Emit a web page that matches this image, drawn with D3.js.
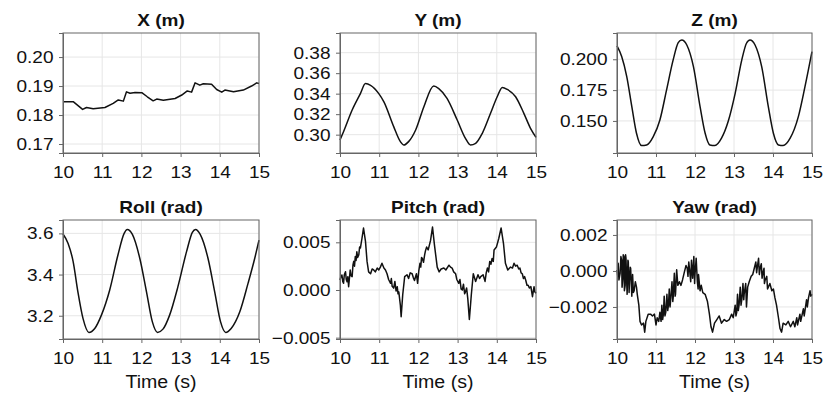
<!DOCTYPE html>
<html><head><meta charset="utf-8">
<script src="https://cdn.jsdelivr.net/npm/d3@7"></script>
<style>
body{margin:0;background:#fff;}
text{font-family:"Liberation Sans",Arial,Helvetica,sans-serif;}
</style></head>
<body><svg id="c" width="826" height="395"></svg>
<script>
// ---- data: [time (s), value] ----
const xData = [[10.00,0.1846],[10.26,0.1846],[10.50,0.18195],[10.60,0.1826],[10.77,0.1822],[11.07,0.1826],[11.28,0.1840],[11.41,0.1852],[11.54,0.1848],[11.62,0.1880],[11.71,0.1875],[11.84,0.1878],[12.01,0.1877],[12.15,0.1863],[12.30,0.1849],[12.39,0.1855],[12.56,0.1851],[12.86,0.1857],[13.03,0.1869],[13.17,0.1883],[13.28,0.1879],[13.37,0.1911],[13.49,0.1903],[13.58,0.1908],[13.79,0.1906],[13.92,0.1888],[14.05,0.1879],[14.13,0.1886],[14.35,0.1880],[14.60,0.1886],[14.81,0.1900],[14.94,0.1911],[15.00,0.1909]];
const yData = [[10.00,0.2948],[10.09,0.3029],[10.31,0.3240],[10.52,0.3400],[10.65,0.3498],[10.78,0.3481],[10.99,0.3400],[11.12,0.3320],[11.37,0.3078],[11.54,0.2932],[11.63,0.2899],[11.75,0.2932],[11.93,0.3046],[12.14,0.3273],[12.39,0.3475],[12.52,0.3450],[12.73,0.3354],[12.99,0.3143],[13.20,0.2964],[13.33,0.2899],[13.46,0.2915],[13.63,0.3013],[13.84,0.3208],[14.01,0.3370],[14.14,0.3461],[14.27,0.3441],[14.48,0.3370],[14.69,0.3208],[14.86,0.3062],[15.00,0.2974]];
const zData = [[10.00,0.2108],[10.12,0.2022],[10.25,0.1860],[10.38,0.1616],[10.50,0.1400],[10.63,0.1300],[10.76,0.1305],[10.93,0.1373],[11.10,0.1508],[11.27,0.1750],[11.44,0.1995],[11.57,0.2135],[11.66,0.2157],[11.79,0.2116],[11.96,0.1940],[12.13,0.1616],[12.26,0.1400],[12.38,0.1305],[12.51,0.1300],[12.68,0.1360],[12.85,0.1495],[13.03,0.1724],[13.20,0.1995],[13.32,0.2130],[13.41,0.2157],[13.54,0.2116],[13.71,0.1940],[13.88,0.1616],[14.01,0.1400],[14.14,0.1305],[14.26,0.1300],[14.44,0.1360],[14.65,0.1535],[14.82,0.1778],[15.00,0.2062]];
const rollData = [[10.00,3.597],[10.13,3.551],[10.26,3.462],[10.38,3.316],[10.51,3.187],[10.66,3.119],[10.81,3.138],[10.98,3.203],[11.19,3.324],[11.40,3.494],[11.56,3.600],[11.64,3.619],[11.77,3.595],[11.96,3.478],[12.13,3.316],[12.28,3.170],[12.41,3.119],[12.55,3.135],[12.72,3.203],[12.93,3.340],[13.15,3.510],[13.30,3.605],[13.38,3.619],[13.50,3.595],[13.70,3.478],[13.87,3.316],[14.02,3.170],[14.15,3.119],[14.29,3.138],[14.51,3.219],[14.72,3.357],[14.89,3.478],[15.00,3.567]];
const pitchData = [[10.00,0.00105],[10.03,0.0015],[10.05,0.00157],[10.07,0.0009],[10.09,0.0007],[10.11,0.0016],[10.14,0.00192],[10.16,0.0011],[10.18,0.00087],[10.20,0.0014],[10.22,0.00035],[10.24,0.0012],[10.26,0.0021],[10.28,0.0015],[10.31,0.0014],[10.33,0.0026],[10.35,0.0030],[10.37,0.0025],[10.39,0.0035],[10.41,0.0031],[10.43,0.0040],[10.45,0.0034],[10.48,0.0037],[10.50,0.0045],[10.52,0.0044],[10.56,0.0054],[10.60,0.0065],[10.65,0.0051],[10.69,0.0030],[10.73,0.0019],[10.78,0.0017],[10.82,0.0022],[10.86,0.0021],[10.90,0.0019],[10.95,0.0023],[10.99,0.0021],[11.03,0.0024],[11.07,0.0028],[11.12,0.0023],[11.16,0.0021],[11.20,0.0017],[11.24,0.0011],[11.29,0.0007],[11.31,0.0012],[11.33,0.0004],[11.37,0.0002],[11.40,0.0009],[11.43,-0.0001],[11.46,0.00035],[11.48,-0.0004],[11.50,-0.0002],[11.54,-0.0016],[11.56,-0.0028],[11.60,-0.0005],[11.65,0.0014],[11.71,0.0016],[11.75,0.0012],[11.79,0.0018],[11.84,0.0017],[11.87,0.0013],[11.90,0.0010],[11.95,0.0017],[11.98,0.0007],[12.01,0.0020],[12.04,0.0028],[12.06,0.0024],[12.08,0.0034],[12.10,0.0033],[12.13,0.0029],[12.16,0.0037],[12.18,0.0041],[12.21,0.0045],[12.25,0.0042],[12.31,0.0052],[12.36,0.0066],[12.41,0.0047],[12.48,0.0024],[12.53,0.0019],[12.58,0.0022],[12.65,0.0023],[12.70,0.0021],[12.78,0.0026],[12.82,0.0024],[12.86,0.0023],[12.90,0.0019],[12.95,0.0017],[12.98,0.0011],[13.03,0.0007],[13.06,0.0011],[13.09,0.0001],[13.12,0.0000],[13.15,0.0006],[13.18,-0.0004],[13.20,-0.0002],[13.23,0.0002],[13.26,-0.0009],[13.30,-0.0031],[13.35,-0.0005],[13.40,0.0017],[13.46,0.0009],[13.52,0.0016],[13.56,0.0012],[13.59,0.0014],[13.65,0.0016],[13.70,0.0009],[13.73,0.0018],[13.76,0.0023],[13.79,0.0019],[13.82,0.0030],[13.85,0.0027],[13.88,0.0033],[13.91,0.0030],[13.93,0.0042],[13.99,0.0045],[14.05,0.0054],[14.11,0.0065],[14.17,0.0049],[14.22,0.0028],[14.28,0.0021],[14.35,0.0024],[14.40,0.0023],[14.44,0.0028],[14.48,0.0025],[14.52,0.0026],[14.56,0.0022],[14.59,0.0023],[14.62,0.0018],[14.65,0.0017],[14.68,0.0012],[14.71,0.0014],[14.74,0.0010],[14.77,0.0005],[14.80,0.0005],[14.83,0.0002],[14.87,0.00035],[14.91,-0.0007],[14.95,0.00035],[14.97,-0.0002],[15.00,-0.00035]];
const yawData = [[10.00,0.00006],[10.02,-0.0003],[10.03,0.00043],[10.05,-0.0005],[10.08,-0.00013],[10.10,0.0008],[10.12,0.0006],[10.13,-0.0009],[10.15,-0.0004],[10.16,0.0009],[10.18,0.0008],[10.19,-0.0011],[10.21,-0.0008],[10.22,0.0009],[10.23,0.0007],[10.25,-0.0007],[10.26,-0.0013],[10.28,0.0006],[10.29,0.0005],[10.31,-0.0012],[10.32,-0.0006],[10.34,0.0002],[10.35,0.00015],[10.37,-0.0009],[10.38,-0.0014],[10.40,-0.0002],[10.42,-0.0012],[10.44,-0.0011],[10.47,-0.0006],[10.50,-0.0009],[10.52,-0.0013],[10.56,-0.0019],[10.59,-0.0028],[10.63,-0.0030],[10.68,-0.0029],[10.71,-0.0034],[10.74,-0.0028],[10.80,-0.0024],[10.86,-0.0024],[10.91,-0.0025],[10.96,-0.0024],[11.00,-0.0030],[11.03,-0.0026],[11.07,-0.0028],[11.10,-0.0023],[11.13,-0.0028],[11.15,-0.0019],[11.17,-0.0027],[11.19,-0.0024],[11.21,-0.0014],[11.23,-0.0025],[11.25,-0.0023],[11.28,-0.0013],[11.30,-0.0022],[11.32,-0.0019],[11.34,-0.0010],[11.36,-0.0020],[11.38,-0.0015],[11.41,-0.0006],[11.43,-0.0017],[11.44,-0.0015],[11.47,-0.00013],[11.49,-0.0014],[11.50,-0.0013],[11.53,0.00006],[11.56,-0.0008],[11.60,-0.0006],[11.64,-0.0008],[11.68,-0.0005],[11.73,-0.00004],[11.77,0.0003],[11.80,0.00015],[11.82,-0.0003],[11.84,0.0005],[11.87,-0.00013],[11.89,-0.0006],[11.91,0.0006],[11.94,-0.0004],[11.97,0.0008],[11.99,-0.0007],[12.00,-0.0002],[12.03,0.0007],[12.06,-0.0006],[12.08,-0.0010],[12.09,-0.0002],[12.13,-0.0011],[12.16,-0.0008],[12.20,-0.0012],[12.26,-0.0013],[12.32,-0.0017],[12.37,-0.0024],[12.41,-0.0031],[12.45,-0.0034],[12.50,-0.0029],[12.56,-0.0027],[12.62,-0.0025],[12.68,-0.0029],[12.75,-0.0027],[12.81,-0.0028],[12.88,-0.0027],[12.94,-0.0024],[12.98,-0.0026],[13.03,-0.0019],[13.05,-0.0025],[13.07,-0.0023],[13.09,-0.0013],[13.11,-0.0022],[13.13,-0.0019],[13.16,-0.0009],[13.18,-0.0019],[13.20,-0.0016],[13.23,-0.0007],[13.25,-0.0016],[13.26,-0.0013],[13.30,-0.0007],[13.32,-0.0020],[13.35,-0.0009],[13.39,-0.0006],[13.44,-0.0003],[13.48,-0.0002],[13.52,0.00015],[13.56,0.0005],[13.58,-0.0001],[13.60,0.00024],[13.63,0.0007],[13.65,-0.0002],[13.67,0.00015],[13.70,0.0004],[13.72,-0.0004],[13.74,-0.00013],[13.77,0.00015],[13.78,-0.0007],[13.80,-0.0005],[13.84,-0.0003],[13.86,-0.0010],[13.88,-0.0009],[13.92,-0.0007],[13.97,-0.0011],[14.01,-0.0010],[14.05,-0.0015],[14.09,-0.0019],[14.14,-0.0026],[14.18,-0.0032],[14.22,-0.0034],[14.26,-0.0029],[14.33,-0.0030],[14.39,-0.0028],[14.45,-0.0031],[14.52,-0.0028],[14.56,-0.0031],[14.61,-0.0026],[14.63,-0.0030],[14.65,-0.0028],[14.69,-0.0024],[14.71,-0.0028],[14.74,-0.0025],[14.78,-0.0021],[14.80,-0.0025],[14.82,-0.0022],[14.86,-0.0016],[14.88,-0.0020],[14.91,-0.0015],[14.95,-0.0011],[14.97,-0.0014],[15.00,-0.0013]];

const xTicks = [10, 11, 12, 13, 14, 15];
const titles = ["X (m)", "Y (m)", "Z (m)", "Roll (rad)", "Pitch (rad)", "Yaw (rad)"];
const series = [xData, yData, zData, rollData, pitchData, yawData];
const yTicksList = [[0.17,0.18,0.19,0.20],[0.30,0.32,0.34,0.36,0.38],[0.150,0.175,0.200],[3.2,3.4,3.6],[-0.005,0,0.005],[-0.002,0,0.002]];
const yFormats = [".2f", ".2f", ".3f", ".1f", ".3f", ".3f"];
const yDomains = [[0.1669,0.2083],[0.2821,0.3992],[0.124,0.2213],[3.087,3.665],[-0.00514,0.00734],[-0.00378,0.00283]];
const smooth = [false, true, true, true, false, false];

// ---- layout ----
const cols = [[63,259],[340,536],[617,812]];
const rows = [[33,153],[220,339]];
const FS = 17, SX = 1.12;
const svg = d3.select("#c");

series.forEach((data, i) => {
  const r = Math.floor(i/3), c = i%3;
  const [x0,x1] = cols[c], [y0,y1] = rows[r];
  const xs = d3.scaleLinear().domain([10,15]).range([x0,x1]);
  const ys = d3.scaleLinear().domain(yDomains[i]).range([y1,y0]);
  const g = svg.append("g");
  // grid
  g.selectAll(".vg").data(xTicks).join("line")
    .attr("x1", d=>xs(d)).attr("x2", d=>xs(d)).attr("y1", y0).attr("y2", y1)
    .attr("stroke", "#e6e6e6").attr("stroke-width", 1);
  g.selectAll(".hg").data(yTicksList[i]).join("line")
    .attr("x1", x0).attr("x2", x1).attr("y1", d=>ys(d)).attr("y2", d=>ys(d))
    .attr("stroke", "#e6e6e6").attr("stroke-width", 1);
  // line
  const line = d3.line().x(d=>xs(d[0])).y(d=>ys(d[1]))
    .curve(smooth[i] ? d3.curveMonotoneX : d3.curveLinear);
  g.append("path").datum(data).attr("d", line)
    .attr("fill","none").attr("stroke","#111").attr("stroke-width",1.5)
    .attr("stroke-linejoin","round");
  // frame
  g.append("rect").attr("x", x0).attr("y", y0).attr("width", x1-x0).attr("height", y1-y0)
    .attr("fill","none").attr("stroke","#666").attr("stroke-width",1);
  // axes
  const ax = g.append("g").attr("transform", `translate(0,${y1})`)
    .call(d3.axisBottom(xs).tickValues(xTicks).tickFormat(d3.format("d")).tickSize(4).tickPadding(9));
  const ay = g.append("g").attr("transform", `translate(${x0},0)`)
    .call(d3.axisLeft(ys).tickValues(yTicksList[i]).tickFormat(d3.format(yFormats[i])).tickSize(4).tickPadding(4.5));
  [ax, ay].forEach(a => {
    a.select(".domain").attr("stroke","#666");
    a.selectAll(".tick line").attr("stroke","#666");
    a.selectAll(".tick text").attr("fill","#111").style("font-size", FS+"px")
      .style("font-family","'Liberation Sans',Arial,sans-serif")
      .attr("transform", `scale(${SX},1)`);
  });
  // title
  g.append("text").attr("transform", `translate(${(x0+x1)/2},${y0-7}) scale(${SX},1)`)
    .attr("text-anchor","middle")
    .style("font-size", FS+"px").style("font-weight","bold").attr("fill","#111").text(titles[i]);
  if (r === 1) {
    g.append("text").attr("transform", `translate(${(x0+x1)/2},388) scale(${SX},1)`)
      .attr("text-anchor","middle")
      .style("font-size","17.5px").attr("fill","#111").text("Time (s)");
  }
});
</script></body></html>
